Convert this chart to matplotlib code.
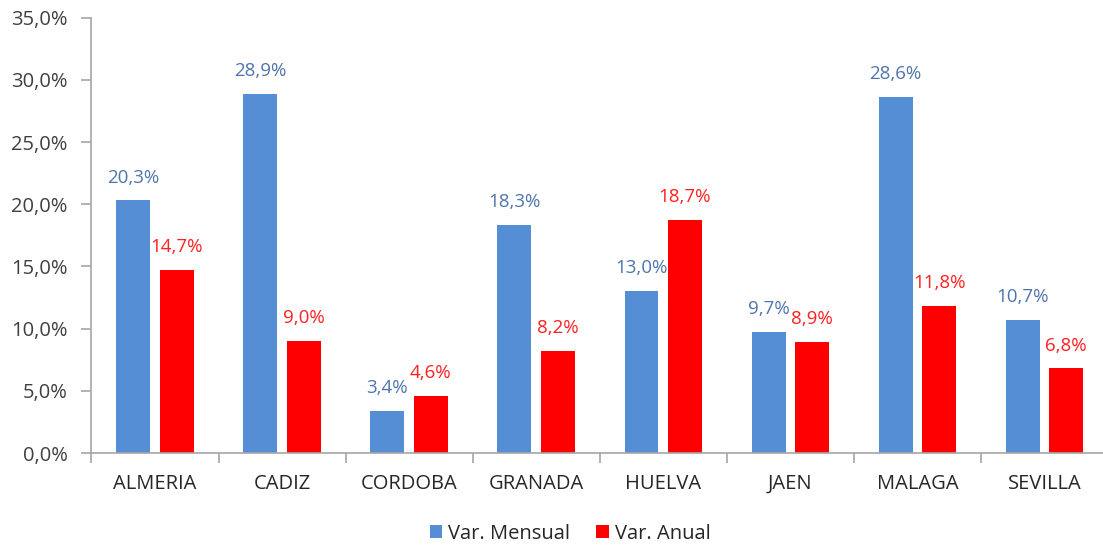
import numpy as np
import matplotlib.pyplot as plt
from matplotlib.ticker import FixedLocator

provincias = ["ALMERIA", "CADIZ", "CORDOBA", "GRANADA", "HUELVA", "JAEN", "MALAGA", "SEVILLA"]
var_mensual = [20.3, 28.9, 3.4, 18.3, 13.0, 9.7, 28.6, 10.7]
var_anual = [14.7, 9.0, 4.6, 8.2, 18.7, 8.9, 11.8, 6.8]
yticks = [0, 5, 10, 15, 20, 25, 30, 35]

plt.rcParams['font.family'] = ['Open Sans', 'DejaVu Sans']

fig = plt.figure(figsize=(11.03, 5.46), dpi=100)
ax = fig.add_axes([0.0829, 0.1703, 0.9216, 0.7974])

x = np.arange(len(provincias))
w = 0.267
off = 0.171
b1 = ax.bar(x - off, var_mensual, w, color="#558ED5", label="Var. Mensual")
b2 = ax.bar(x + off, var_anual, w, color="#FF0000", label="Var. Anual")

for xi, v in zip(x, var_mensual):
    ax.annotate(f"{v:.1f}%".replace(".", ","), (xi - off, v), xytext=(0, 16.5),
                textcoords="offset points", ha="center", va="center",
                fontsize=13.5, color="#4F75AE")
for xi, v in zip(x, var_anual):
    ax.annotate(f"{v:.1f}%".replace(".", ","), (xi + off, v), xytext=(0, 16.5),
                textcoords="offset points", ha="center", va="center",
                fontsize=13.5, color="#FF2020")

ax.set_xlim(-0.5, len(provincias) - 0.5)
ax.set_ylim(0, 35)
ax.set_yticks(yticks)
ax.set_yticklabels([f"{t:.1f}%".replace(".", ",") for t in yticks], fontsize=14.5, color="#404040")
ax.set_xticks(x)
ax.set_xticklabels(provincias, fontsize=14.5, color="#262626")
ax.xaxis.set_minor_locator(FixedLocator(np.arange(-0.5, len(provincias), 1.0)))
ax.tick_params(axis="x", which="major", length=0, pad=15)
ax.tick_params(axis="x", which="minor", length=7, color="#A6A6A6", width=1.2)
ax.tick_params(axis="y", length=7, color="#A6A6A6", width=1.2, pad=10)

for s in ["top", "right"]:
    ax.spines[s].set_visible(False)
for s in ["left", "bottom"]:
    ax.spines[s].set_color("#A6A6A6")
    ax.spines[s].set_linewidth(1.2)

fig.legend(handles=[b1, b2], loc="center", bbox_to_anchor=(0.517, 0.022), ncol=2,
           frameon=False, fontsize=14.5, handlelength=0.6, handleheight=0.6,
           handletextpad=0.3, columnspacing=1.3, labelcolor="#262626")

fig.savefig("out.png", dpi=100)
